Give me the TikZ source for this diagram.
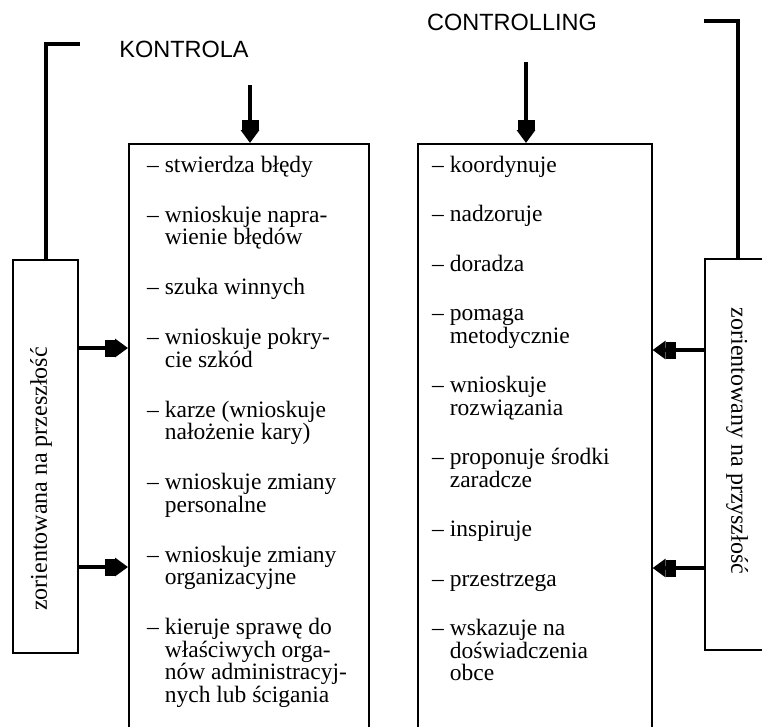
\documentclass[tikz,border=0pt]{standalone}
\usepackage{fontspec}
\setmainfont{Liberation Serif}
\newfontfamily\hvfont{Liberation Sans}
\usetikzlibrary{arrows.meta}
\begin{document}
\begin{tikzpicture}[x=1pt,y=-1pt,
  box/.style={draw, line width=1.6pt, inner sep=0pt, anchor=north west},
  ln/.style={anchor=base west, inner sep=0pt, font=\fontsize{23.5}{27}\selectfont},
  ttl/.style={anchor=base, inner sep=0pt, font=\hvfont\fontsize{23.5}{27}\selectfont},
  side/.style={inner sep=0pt, font=\fontsize{24}{28}\selectfont},
  fat/.style={line width=4.5pt, -{Rectangle[length=10pt,width=17pt,sep=0pt]Triangle[length=13pt,width=18pt]}},
  brk/.style={line width=4.5pt}]
\useasboundingbox (0,0) rectangle (762,726);
\clip (0,0) rectangle (762,726);
% boxes
\node[box, minimum width=240pt, minimum height=620pt] (L) at (128,143) {};
\node[box, minimum width=234pt, minimum height=620pt] (R) at (417,143) {};
\node[box, minimum width=65pt, minimum height=393pt] (LS) at (12,259) {};
\node[box, minimum width=80pt, minimum height=391pt] (RS) at (704,258) {};
% side texts
\node[side, rotate=90] (lst) at (41,479) {zorientowana na przeszłość};
\node[side, rotate=-90] (rst) at (737,441) {zorientowany na przyszłość};
% titles
\node[ttl] (t1) at (184,57) {KONTROLA};
\node[ttl] (t2) at (512,30) {CONTROLLING};
% brackets
\coordinate (b1) at (80,44);
\coordinate (b1x) at (46,0);
\draw[brk] (b1) -| (b1x |- LS.north);
\coordinate (b2) at (704,21);
\coordinate (b2x) at (738,0);
\draw[brk] (b2) -| (b2x |- RS.north);
% top arrows
\coordinate (a1) at (250,85);
\coordinate (a2) at (526,62);
\draw[fat] (a1) -- (a1 |- L.north);
\draw[fat] (a2) -- (a2 |- R.north);
% side arrows
\coordinate (y1) at (0,348);
\coordinate (y2) at (0,567);
\coordinate (y3) at (0,350);
\coordinate (y4) at (0,568);
\draw[fat] (LS.east |- y1) -- (L.west |- y1);
\draw[fat] (LS.east |- y2) -- (L.west |- y2);
\draw[fat] (RS.west |- y3) -- (R.east |- y3);
\draw[fat] (RS.west |- y4) -- (R.east |- y4);
% left list
\node[ln] (l1) at (147,172) {– stwierdza błędy};
\node[ln] (l2) at (147,222) {– wnioskuje napra-};
\node[ln] (l3) at (147,244.5) {\phantom{– }wienie błędów};
\node[ln] (l4) at (147,294.5) {– szuka winnych};
\node[ln] (l5) at (147,344.5) {– wnioskuje pokry-};
\node[ln] (l6) at (147,367) {\phantom{– }cie szkód};
\node[ln] (l7) at (147,417) {– karze (wnioskuje};
\node[ln] (l8) at (147,439.5) {\phantom{– }nałożenie kary)};
\node[ln] (l9) at (147,489.5) {– wnioskuje zmiany};
\node[ln] (l10) at (147,512) {\phantom{– }personalne};
\node[ln] (l11) at (147,562) {– wnioskuje zmiany};
\node[ln] (l12) at (147,584.5) {\phantom{– }organizacyjne};
\node[ln] (l13) at (147,634.5) {– kieruje sprawę do};
\node[ln] (l14) at (147,657) {\phantom{– }właściwych orga-};
\node[ln] (l15) at (147,679.5) {\phantom{– }nów administracyj-};
\node[ln] (l16) at (147,702) {\phantom{– }nych lub ścigania};
% right list
\node[ln] (r1) at (432,172) {– koordynuje};
\node[ln] (r2) at (432,221.5) {– nadzoruje};
\node[ln] (r3) at (432,271) {– doradza};
\node[ln] (r4) at (432,320.5) {– pomaga};
\node[ln] (r5) at (432,343) {\phantom{– }metodycznie};
\node[ln] (r6) at (432,392.5) {– wnioskuje};
\node[ln] (r7) at (432,415) {\phantom{– }rozwiązania};
\node[ln] (r8) at (432,464.5) {– proponuje środki};
\node[ln] (r9) at (432,487) {\phantom{– }zaradcze};
\node[ln] (r10) at (432,536.5) {– inspiruje};
\node[ln] (r11) at (432,586) {– przestrzega};
\node[ln] (r12) at (432,635.5) {– wskazuje na};
\node[ln] (r13) at (432,658) {\phantom{– }doświadczenia};
\node[ln] (r14) at (432,680.5) {\phantom{– }obce};
\end{tikzpicture}
\end{document}
